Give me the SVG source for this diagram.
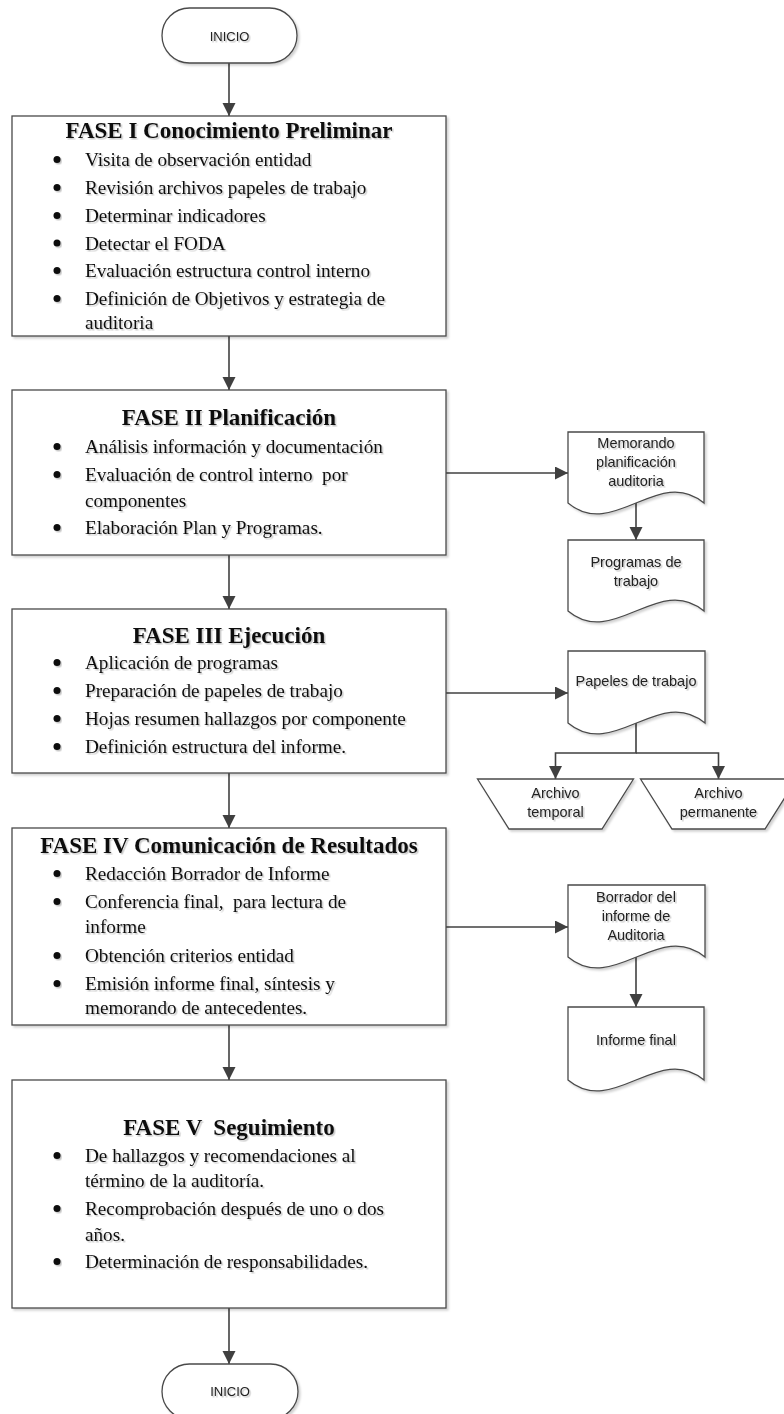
<svg xmlns="http://www.w3.org/2000/svg" width="784" height="1414" viewBox="0 0 784 1414">
<style>
.shape{fill:#fff;stroke:#4a4a4a;stroke-width:1.3;filter:url(#sh)}
.conn{fill:none;stroke:#404040;stroke-width:1.6;marker-end:url(#ah)}
.title{font-family:"Liberation Serif","Times New Roman",serif;font-weight:bold;font-size:23px;fill:#111;text-anchor:middle;filter:url(#tsh);white-space:pre}
.body{font-family:"Liberation Serif","Times New Roman",serif;font-size:19.2px;fill:#111;filter:url(#tsh);white-space:pre}
.lbl{font-family:"Liberation Sans",Arial,sans-serif;font-size:14.5px;fill:#222;text-anchor:middle;filter:url(#tsh)}
.term{font-family:"Liberation Sans",Arial,sans-serif;font-size:13px;fill:#222;text-anchor:middle;filter:url(#tsh)}
.bul{fill:#111;filter:url(#tsh)}
</style>
<defs>
<filter id="sh" x="-10%" y="-10%" width="130%" height="130%">
<feDropShadow dx="2" dy="2" stdDeviation="1" flood-color="#000" flood-opacity="0.18"/>
</filter>
<filter id="tsh" x="-5%" y="-20%" width="115%" height="160%">
<feDropShadow dx="1.5" dy="1.5" stdDeviation="0.6" flood-color="#000" flood-opacity="0.22"/>
</filter>
<marker id="ah" markerUnits="userSpaceOnUse" markerWidth="14" markerHeight="14" refX="13" refY="6.5" orient="auto">
<path d="M0,0 L13,6.5 L0,13 Z" fill="#404040"/>
</marker>
</defs>

<g id="connectors">
<path class="conn" d="M229,63 V116"/>
<path class="conn" d="M229,336 V390"/>
<path class="conn" d="M229,555 V609"/>
<path class="conn" d="M229,773 V828"/>
<path class="conn" d="M229,1025 V1080"/>
<path class="conn" d="M229,1308 V1364"/>
<path class="conn" d="M446,473 H568"/>
<path class="conn" d="M636,503 V540"/>
<path class="conn" d="M446,693 H568"/>
<path class="conn" d="M636,723 V753 H555.5 V779"/>
<path class="conn" d="M636,753 H718.5 V779"/>
<path class="conn" d="M446,927 H568"/>
<path class="conn" d="M636,957 V1007"/>
</g>

<g id="inicio">
<rect class="shape" x="162" y="8" width="135" height="55" rx="27.5"/>
<text class="term" x="229.5" y="40.5">INICIO</text>
</g>

<g id="fase1">
<rect class="shape" x="12" y="116" width="434" height="220"/>
<text class="title" x="229" y="138">FASE I Conocimiento Preliminar</text>
<circle class="bul" cx="57" cy="159.5" r="3.5"/>
<text class="body" x="85" y="166">Visita de observación entidad</text>
<circle class="bul" cx="57" cy="187.5" r="3.5"/>
<text class="body" x="85" y="194">Revisión archivos papeles de trabajo</text>
<circle class="bul" cx="57" cy="215.5" r="3.5"/>
<text class="body" x="85" y="222">Determinar indicadores</text>
<circle class="bul" cx="57" cy="243" r="3.5"/>
<text class="body" x="85" y="249.5">Detectar el FODA</text>
<circle class="bul" cx="57" cy="270.5" r="3.5"/>
<text class="body" x="85" y="277">Evaluación estructura control interno</text>
<circle class="bul" cx="57" cy="298.5" r="3.5"/>
<text class="body" x="85" y="305">Definición de Objetivos y estrategia de</text>
<text class="body" x="85" y="329">auditoria</text>
</g>

<g id="fase2">
<rect class="shape" x="12" y="390" width="434" height="165"/>
<text class="title" x="229" y="425">FASE II Planificación</text>
<circle class="bul" cx="57" cy="446.5" r="3.5"/>
<text class="body" x="85" y="453">Análisis información y documentación</text>
<circle class="bul" cx="57" cy="474.5" r="3.5"/>
<text class="body" x="85" y="481">Evaluación de control interno  por</text>
<text class="body" x="85" y="507">componentes</text>
<circle class="bul" cx="57" cy="527.5" r="3.5"/>
<text class="body" x="85" y="534">Elaboración Plan y Programas.</text>
</g>

<g id="memorando">
<path class="shape" d="M568,432 H704 V503 C658.7,465 613.3,541 568,503 Z"/>
<text class="lbl" x="636" y="448">Memorando</text>
<text class="lbl" x="636" y="467">planificación</text>
<text class="lbl" x="636" y="486">auditoria</text>
</g>

<g id="programas">
<path class="shape" d="M568,540 H704 V611 C658.7,573 613.3,649 568,611 Z"/>
<text class="lbl" x="636" y="567">Programas de</text>
<text class="lbl" x="636" y="586">trabajo</text>
</g>

<g id="fase3">
<rect class="shape" x="12" y="609" width="434" height="164"/>
<text class="title" x="229" y="643">FASE III Ejecución</text>
<circle class="bul" cx="57" cy="662.5" r="3.5"/>
<text class="body" x="85" y="669">Aplicación de programas</text>
<circle class="bul" cx="57" cy="690.5" r="3.5"/>
<text class="body" x="85" y="697">Preparación de papeles de trabajo</text>
<circle class="bul" cx="57" cy="718.5" r="3.5"/>
<text class="body" x="85" y="725">Hojas resumen hallazgos por componente</text>
<circle class="bul" cx="57" cy="746.5" r="3.5"/>
<text class="body" x="85" y="753">Definición estructura del informe.</text>
</g>

<g id="papeles">
<path class="shape" d="M568,651 H705 V723 C659.3,685 613.7,761 568,723 Z"/>
<text class="lbl" x="636" y="686">Papeles de trabajo</text>
</g>

<g id="archivo-temporal">
<path class="shape" d="M477.5,779 H633.5 L602,829 H509 Z"/>
<text class="lbl" x="555.5" y="798">Archivo</text>
<text class="lbl" x="555.5" y="817">temporal</text>
</g>

<g id="archivo-permanente">
<path class="shape" d="M640.5,779 H796.5 L765,829 H672 Z"/>
<text class="lbl" x="718.5" y="798">Archivo</text>
<text class="lbl" x="718.5" y="817">permanente</text>
</g>

<g id="fase4">
<rect class="shape" x="12" y="828" width="434" height="197"/>
<text class="title" x="229" y="853">FASE IV Comunicación de Resultados</text>
<circle class="bul" cx="57" cy="873.5" r="3.5"/>
<text class="body" x="85" y="880">Redacción Borrador de Informe</text>
<circle class="bul" cx="57" cy="901.5" r="3.5"/>
<text class="body" x="85" y="908">Conferencia final,  para lectura de</text>
<text class="body" x="85" y="933">informe</text>
<circle class="bul" cx="57" cy="955.5" r="3.5"/>
<text class="body" x="85" y="962">Obtención criterios entidad</text>
<circle class="bul" cx="57" cy="983.5" r="3.5"/>
<text class="body" x="85" y="990">Emisión informe final, síntesis y</text>
<text class="body" x="85" y="1014">memorando de antecedentes.</text>
</g>

<g id="borrador">
<path class="shape" d="M568,885 H705 V957 C659.3,919 613.7,995 568,957 Z"/>
<text class="lbl" x="636" y="902">Borrador del</text>
<text class="lbl" x="636" y="921">informe de</text>
<text class="lbl" x="636" y="940">Auditoria</text>
</g>

<g id="informe-final">
<path class="shape" d="M568,1007 H704 V1080 C658.7,1042 613.3,1118 568,1080 Z"/>
<text class="lbl" x="636" y="1045">Informe final</text>
</g>

<g id="fase5">
<rect class="shape" x="12" y="1080" width="434" height="228"/>
<text class="title" x="229" y="1135">FASE V  Seguimiento</text>
<circle class="bul" cx="57" cy="1155.5" r="3.5"/>
<text class="body" x="85" y="1162">De hallazgos y recomendaciones al</text>
<text class="body" x="85" y="1187">término de la auditoría.</text>
<circle class="bul" cx="57" cy="1208.5" r="3.5"/>
<text class="body" x="85" y="1215">Recomprobación después de uno o dos</text>
<text class="body" x="85" y="1241">años.</text>
<circle class="bul" cx="57" cy="1261.5" r="3.5"/>
<text class="body" x="85" y="1268">Determinación de responsabilidades.</text>
</g>

<g id="fin">
<rect class="shape" x="162" y="1364" width="136" height="55" rx="27.5"/>
<text class="term" x="230" y="1396">INICIO</text>
</g>
</svg>
